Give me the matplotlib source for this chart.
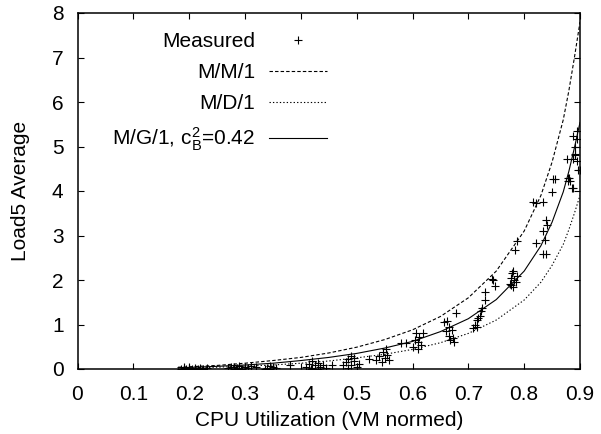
import numpy as np
import matplotlib.pyplot as plt

# 1. DATA
meas_x = [
    0.185, 0.19, 0.195, 0.20, 0.205, 0.21, 0.215, 0.22, 0.225, 0.232, 0.19, 0.20,
    0.27, 0.275, 0.28, 0.285, 0.29, 0.295, 0.30, 0.305, 0.31, 0.28, 0.292, 0.32,
    0.335, 0.34, 0.345, 0.35, 0.355, 0.345, 0.38,
    0.41, 0.415, 0.42, 0.42, 0.425, 0.43, 0.43, 0.435, 0.44, 0.445, 0.418, 0.455,
    0.475, 0.48, 0.485, 0.485, 0.49, 0.49, 0.495, 0.50, 0.505, 0.495, 0.522,
    0.535, 0.54, 0.545, 0.548, 0.55, 0.552, 0.555, 0.558, 0.579, 0.588,
    0.60, 0.605, 0.607, 0.61, 0.612, 0.615, 0.618, 0.61,
    0.657, 0.662, 0.66, 0.665, 0.668, 0.67, 0.672, 0.675, 0.678, 0.665,
    0.708, 0.712, 0.715, 0.716, 0.72, 0.722, 0.724, 0.718,
    0.729, 0.73, 0.743, 0.747, 0.745,
    0.774, 0.776, 0.778, 0.78, 0.782, 0.785, 0.788, 0.78, 0.777, 0.783, 0.788,
    0.815, 0.822, 0.833, 0.839, 0.84, 0.833, 0.837, 0.821, 0.833, 0.839,
    0.849, 0.855, 0.852,
    0.876, 0.888, 0.891, 0.894, 0.90, 0.878, 0.882, 0.885, 0.897,
    0.891, 0.888, 0.894, 0.891, 0.881, 0.879, 0.887, 0.894,
]
meas_y = [
    0.01, 0.02, 0.0, 0.03, 0.01, 0.02, 0.0, 0.03, 0.01, 0.02, 0.04, 0.0,
    0.02, 0.05, 0.0, 0.03, 0.06, 0.01, 0.04, 0.02, 0.07, 0.04, 0.0, 0.05,
    0.0, 0.03, 0.01, 0.04, 0.02, 0.06, 0.1,
    0.05, 0.12, 0.02, 0.18, 0.08, 0.0, 0.14, 0.05, 0.1, 0.03, 0.0, 0.1,
    0.08, 0.15, 0.03, 0.22, 0.1, 0.3, 0.18, 0.05, 0.12, 0.25, 0.22,
    0.2, 0.3, 0.15, 0.38, 0.25, 0.45, 0.32, 0.2, 0.58, 0.58,
    0.5, 0.65, 0.8, 0.45, 0.72, 0.55, 0.82, 0.6,
    1.05, 1.07, 0.85, 0.75, 0.65, 0.88, 0.7, 0.6, 1.25, 0.95,
    0.92, 1.0, 1.1, 0.95, 1.2, 1.3, 1.38, 1.15,
    1.55, 1.74, 2.03, 1.87, 2.0,
    1.9, 2.05, 2.15, 1.85, 2.0, 1.95, 2.1, 2.2, 1.88, 2.68, 2.88,
    3.75, 3.72, 3.76, 3.35, 3.24, 3.09, 2.9, 2.83, 2.59, 2.59,
    3.97, 4.26, 4.26,
    4.72, 4.72, 4.84, 4.67, 4.48, 4.3, 4.23, 4.07, 4.48,
    5.0, 5.23, 5.34, 4.82, 4.3, 4.22, 4.07, 5.16,
]

rho = [0.18, 0.20, 0.25, 0.30, 0.35, 0.40, 0.45, 0.50, 0.55, 0.60,
       0.65, 0.70, 0.75, 0.80, 0.83, 0.85, 0.87, 0.88, 0.89, 0.90]
mm1 = [0.04, 0.05, 0.08, 0.13, 0.19, 0.26, 0.36, 0.49, 0.66, 0.88,
       1.18, 1.6, 2.2, 3.1, 3.9, 4.65, 5.6, 6.25, 7.0, 7.8]
md1 = [0.02, 0.025, 0.04, 0.065, 0.09, 0.13, 0.18, 0.25, 0.33, 0.44,
       0.59, 0.8, 1.1, 1.55, 1.95, 2.33, 2.8, 3.13, 3.5, 3.9]
mg1 = [0.03, 0.035, 0.06, 0.09, 0.13, 0.19, 0.26, 0.35, 0.47, 0.62,
       0.84, 1.13, 1.56, 2.2, 2.77, 3.3, 3.98, 4.44, 4.97, 5.54]

xticks = [0, 0.1, 0.2, 0.3, 0.4, 0.5, 0.6, 0.7, 0.8, 0.9]
xticklabels = ["0", "0.1", "0.2", "0.3", "0.4", "0.5", "0.6", "0.7", "0.8", "0.9"]
yticks = [0, 1, 2, 3, 4, 5, 6, 7, 8]


# 2. STYLE
plt.rcParams['font.family'] = ['Liberation Sans', 'DejaVu Sans']
plt.rcParams['mathtext.fontset'] = 'custom'
plt.rcParams['mathtext.rm'] = 'Liberation Sans'
plt.rcParams['mathtext.it'] = 'Liberation Sans'
fs = 15


# 3. MAKING GRAPH
fig = plt.figure(figsize=(6.01, 4.34), dpi=100)
ax = fig.add_axes([77.5 / 601, 65 / 434, 502.5 / 601, 356 / 434])

ax.plot(meas_x, meas_y, linestyle='none', marker='+', color='black',
        markersize=6, markeredgewidth=0.8, label='Measured')
ax.plot(rho, mm1, color='black', linewidth=0.8, dashes=(3.1, 1.9), label='M/M/1')
ax.plot(rho, md1, color='black', linewidth=0.8, dashes=(1.2, 1.9), label='M/D/1')
ax.plot(rho, mg1, color='black', linewidth=0.8, label=r'M/G/1, c$_\mathrm{B}^\mathrm{2}$=0.42')

ax.set_xlim(0, 0.9)
ax.set_ylim(0, 8)
ax.set_xticks(xticks)
ax.set_xticklabels(xticklabels)
ax.set_yticks(yticks)
ax.tick_params(direction='in', length=4.5, width=0.8, top=True, right=True,
               labelsize=fs)
ax.tick_params(axis='x', pad=11.5)
ax.tick_params(axis='y', pad=10)
for s in ax.spines.values():
    s.set_linewidth(1.1)

ax.set_xlabel("CPU Utilization (VM normed)", fontsize=fs, labelpad=5)
ax.set_ylabel("Load5 Average", fontsize=fs, labelpad=16)

leg = ax.legend(loc='upper right', bbox_to_anchor=(327 / 601, 1 - 32 / 434),
                bbox_transform=fig.transFigure, frameon=False, markerfirst=False,
                borderpad=0, borderaxespad=0, handlelength=2.8, handletextpad=0.65,
                labelspacing=0.58, fontsize=fs)

fig.savefig("out.png", dpi=100)
